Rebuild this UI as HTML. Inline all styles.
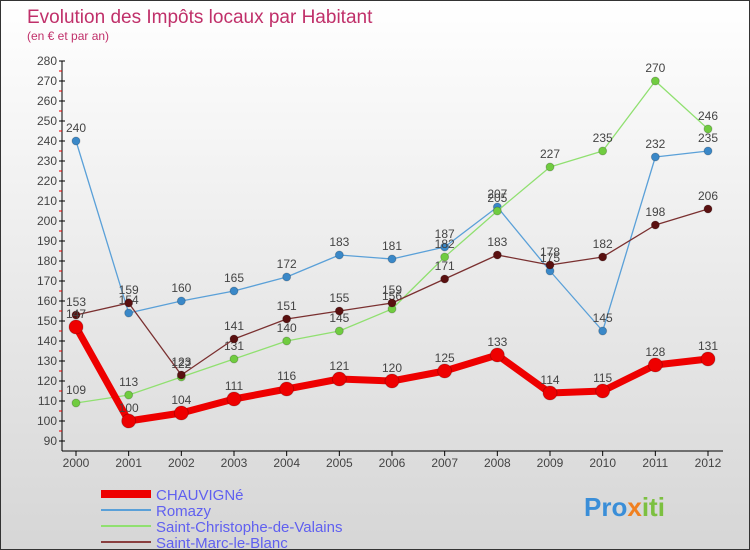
<!DOCTYPE html>
<html><head><meta charset="utf-8"><style>
body{margin:0}
#c{width:748px;height:548px;border:1px solid #333;background:linear-gradient(#fff,#d6d6d6);position:relative;font-family:"Liberation Sans",sans-serif;overflow:hidden}
</style></head><body>
<div id="c">
<svg id="s" width="748" height="548">
<text x="26" y="22" font-size="19" fill="#c0306a">Evolution des Impôts locaux par Habitant</text>
<text x="26" y="39" font-size="12" fill="#c0306a">(en € et par an)</text>
<g id="axes"></g><g id="series"></g><g id="legend"></g>
<text x="583" y="515" font-size="26" font-weight="bold" fill="#3a8ed8">Pro<tspan fill="#f08020">x</tspan><tspan fill="#7cc040">iti</tspan></text>
</svg>
</div>
<script>
const years=[2000,2001,2002,2003,2004,2005,2006,2007,2008,2009,2010,2011,2012];
const yTicks=[90,100,110,120,130,140,150,160,170,180,190,200,210,220,230,240,250,260,270,280];
const chauvigne=[147,100,104,111,116,121,120,125,133,114,115,128,131];
const romazy=[240,154,160,165,172,183,181,187,207,175,145,232,235];
const stChristophe=[109,113,122,131,140,145,156,182,205,227,235,270,246];
const stMarc=[153,159,123,141,151,155,159,171,183,178,182,198,206];
const names=["CHAUVIGNé","Romazy","Saint-Christophe-de-Valains","Saint-Marc-le-Blanc"];
const NS="http://www.w3.org/2000/svg";
const X=i=>75+i*(632/12);
const Y=v=>440-(v-90)*2;
function mk(t,a,p){const e=document.createElementNS(NS,t);for(const k in a)e.setAttribute(k,a[k]);p.appendChild(e);return e;}
const ax=document.getElementById('axes');
let l=mk('line',{x1:61,y1:60,x2:61,y2:450,stroke:'#000'},ax);


l=mk('line',{x1:61,y1:450,x2:722,y2:450,stroke:'#000'},ax);


yTicks.forEach(v=>{
 mk('line',{x1:58,y1:Y(v),x2:64,y2:Y(v),stroke:'#000'},ax);
 if(v<280) mk('line',{x1:58,y1:Y(v+5),x2:61,y2:Y(v+5),stroke:'#e00'},ax);
 const t=mk('text',{x:56,y:Y(v)+4,'text-anchor':'end','font-size':12,fill:'#444'},ax);
 t.textContent=v;
 
 
});
years.forEach((y,i)=>{
 mk('line',{x1:X(i),y1:450,x2:X(i),y2:455,stroke:'#000'},ax);
 const t=mk('text',{x:X(i),y:466,'text-anchor':'middle','font-size':12,fill:'#444'},ax);
 t.textContent=y;
 
 
});
const sg=document.getElementById('series');
function draw(data,color,w,r,name,dot){
 const g=mk('g',{},sg);
 
 
 mk('polyline',{points:data.map((v,i)=>X(i)+','+Y(v)).join(' '),fill:'none',stroke:color,'stroke-width':w,'stroke-linejoin':'round'},g);
 data.forEach((v,i)=>{
  const c=mk('circle',{cx:X(i),cy:Y(v),r:r,fill:dot,stroke:'rgba(0,0,0,0.2)'},g);
  
  
  const t=mk('text',{x:X(i),y:Y(v)-9,'text-anchor':'middle','font-size':12,fill:'#444'},g);
  t.textContent=v;
  
  
 });
}
draw(romazy,'#5aa0d8',1.3,4,'romazy','#3a88c8');
draw(stChristophe,'#90e070',1.3,4,'st-christophe','#70cc40');
draw(stMarc,'#7a3030',1.3,4,'st-marc','#5a1010');
draw(chauvigne,'#ee0000',7,7,'chauvigne','#ee0000');
const lg=document.getElementById('legend');
const lc=['#ee0000','#5aa0d8','#90e070','#8a4040'],lw=[8,2,2,2];
names.forEach((n,i)=>{
 const y=493+i*16;
 mk('line',{x1:100,y1:y,x2:150,y2:y,stroke:lc[i],'stroke-width':lw[i]},lg);
 const t=mk('text',{x:155,y:y+6,'font-size':15,fill:'#6060f0'},lg);
 t.textContent=n;
 
 
});
</script>
</body></html>
